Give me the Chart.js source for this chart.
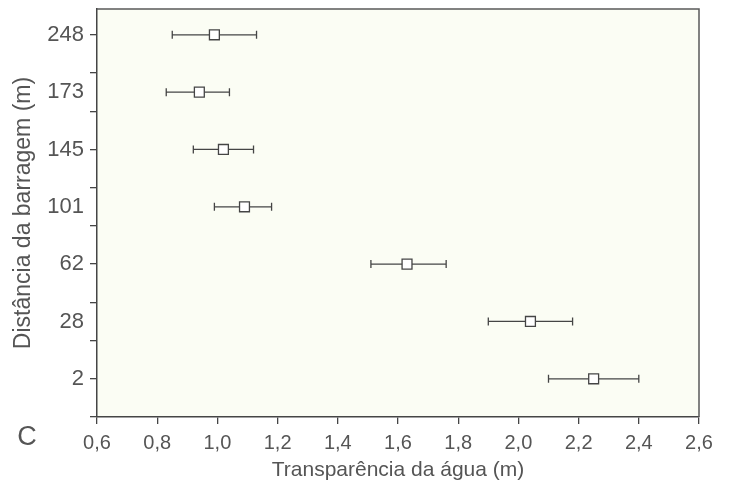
<!DOCTYPE html>
<html>
<head>
<meta charset="utf-8">
<script src="https://cdn.jsdelivr.net/npm/chart.js@4.4.0/dist/chart.umd.min.js"></script>
<style>
  html, body { margin: 0; padding: 0; background: #fff; }
  #wrap { width: 729px; height: 488px; }
</style>
</head>
<body>
<div id="wrap"><canvas id="grafico" width="729" height="488"></canvas></div>
<script>
// distância da barragem (m), de baixo para cima
var distancias = ['2', '28', '62', '101', '145', '173', '248'];
// transparência média da água (m) e limites das barras de erro
var transparencia = [2.25, 2.04, 1.63, 1.09, 1.02, 0.94, 0.99];
var erroMin = [2.10, 1.90, 1.51, 0.99, 0.92, 0.83, 0.85];
var erroMax = [2.40, 2.18, 1.76, 1.18, 1.12, 1.04, 1.13];
var ticksX = [0.6, 0.8, 1.0, 1.2, 1.4, 1.6, 1.8, 2.0, 2.2, 2.4, 2.6];

var pontos = transparencia.map(function (v, i) { return { x: v, y: i }; });

var corLinha = '#454545';
var corTexto = '#555555';

// fundo da área do gráfico, moldura e a letra "C"
var moldura = {
  id: 'moldura',
  beforeDraw: function (chart) {
    var a = chart.chartArea, c = chart.ctx;
    c.save();
    c.fillStyle = '#fbfdf4';
    c.fillRect(a.left, a.top, a.right - a.left, a.bottom - a.top);
    c.restore();
  },
  afterDraw: function (chart) {
    var a = chart.chartArea, c = chart.ctx;
    c.save();
    c.strokeStyle = '#5a5a5a';
    c.lineWidth = 1.5;
    c.beginPath();
    c.moveTo(a.left, a.top);
    c.lineTo(a.right, a.top);
    c.lineTo(a.right, a.bottom);
    c.stroke();
    c.fillStyle = corTexto;
    c.font = '27px "Liberation Sans", Arial, sans-serif';
    c.textAlign = 'center';
    c.textBaseline = 'middle';
    c.fillText('C', 27, 438);
    c.restore();
  }
};

// barras de erro horizontais
var barrasErro = {
  id: 'barrasErro',
  beforeDatasetsDraw: function (chart) {
    var c = chart.ctx, sx = chart.scales.x, sy = chart.scales.y;
    c.save();
    c.strokeStyle = corLinha;
    c.lineWidth = 1.3;
    for (var i = 0; i < pontos.length; i++) {
      var y = sy.getPixelForValue(i);
      var x0 = sx.getPixelForValue(erroMin[i]);
      var x1 = sx.getPixelForValue(erroMax[i]);
      c.beginPath();
      c.moveTo(x0, y); c.lineTo(x1, y);
      c.moveTo(x0, y - 4); c.lineTo(x0, y + 4);
      c.moveTo(x1, y - 4); c.lineTo(x1, y + 4);
      c.stroke();
    }
    c.restore();
  }
};

var ctx = document.getElementById('grafico').getContext('2d');

var grafico = new Chart(ctx, {
  type: 'scatter',
  data: {
    datasets: [{
      data: pontos,
      pointStyle: 'rect',
      pointRadius: 7,
      pointHoverRadius: 7,
      backgroundColor: '#ffffff',
      borderColor: corLinha,
      borderWidth: 1.3
    }]
  },
  options: {
    responsive: false,
    animation: false,
    events: [],
    layout: { padding: { top: 9, right: 30, left: 0, bottom: 0 } },
    plugins: { legend: { display: false }, tooltip: { enabled: false } },
    scales: {
      x: {
        type: 'linear',
        min: 0.6,
        max: 2.6,
        afterFit: function (s) { s.height = 71; s.paddingLeft = 0; s.paddingRight = 0; },
        afterBuildTicks: function (s) {
          s.ticks = ticksX.map(function (v) { return { value: v }; });
        },
        border: { display: true, color: corLinha, width: 1.5 },
        grid: { drawOnChartArea: false, color: corLinha, tickLength: 7, lineWidth: 1.3 },
        ticks: {
          color: corTexto,
          padding: 7,
          font: { family: '"Liberation Sans", Arial, sans-serif', size: 20 },
          callback: function (v) { return v.toFixed(1).replace('.', ','); }
        },
        title: {
          display: true,
          text: 'Transparência da água (m)',
          color: corTexto,
          padding: { top: 0, bottom: 5 },
          font: { family: '"Liberation Sans", Arial, sans-serif', size: 21 }
        }
      },
      y: {
        type: 'linear',
        min: -2 / 3,
        max: 6.45,
        afterFit: function (s) { s.width = 97; s.paddingTop = 0; s.paddingBottom = 0; },
        afterBuildTicks: function (s) {
          var vals = [];
          for (var i = 0; i < distancias.length; i++) vals.push(i);
          for (var k = -1; k < 9; k++) {
            if ((2 * k) % 3 !== 0) vals.push(2 * k / 3);
          }
          vals.sort(function (a, b) { return a - b; });
          s.ticks = vals.map(function (v) { return { value: v }; });
        },
        border: { display: true, color: corLinha, width: 1.5 },
        grid: {
          drawOnChartArea: false,
          tickLength: 7,
          lineWidth: 1.3,
          color: function (c) {
            var v = c.tick ? c.tick.value : 0;
            if (Number.isInteger(v) && v % 2 === 1) return 'rgba(0,0,0,0)';
            return corLinha;
          }
        },
        ticks: {
          color: corTexto,
          padding: 6,
          font: { family: '"Liberation Sans", Arial, sans-serif', size: 22 },
          callback: function (v) {
            return Number.isInteger(v) ? distancias[v] : '';
          }
        },
        title: {
          display: true,
          text: 'Distância da barragem (m)',
          color: corTexto,
          padding: { top: 10, bottom: 0 },
          font: { family: '"Liberation Sans", Arial, sans-serif', size: 23 }
        }
      }
    }
  },
  plugins: [moldura, barrasErro]
});
</script>
</body>
</html>
